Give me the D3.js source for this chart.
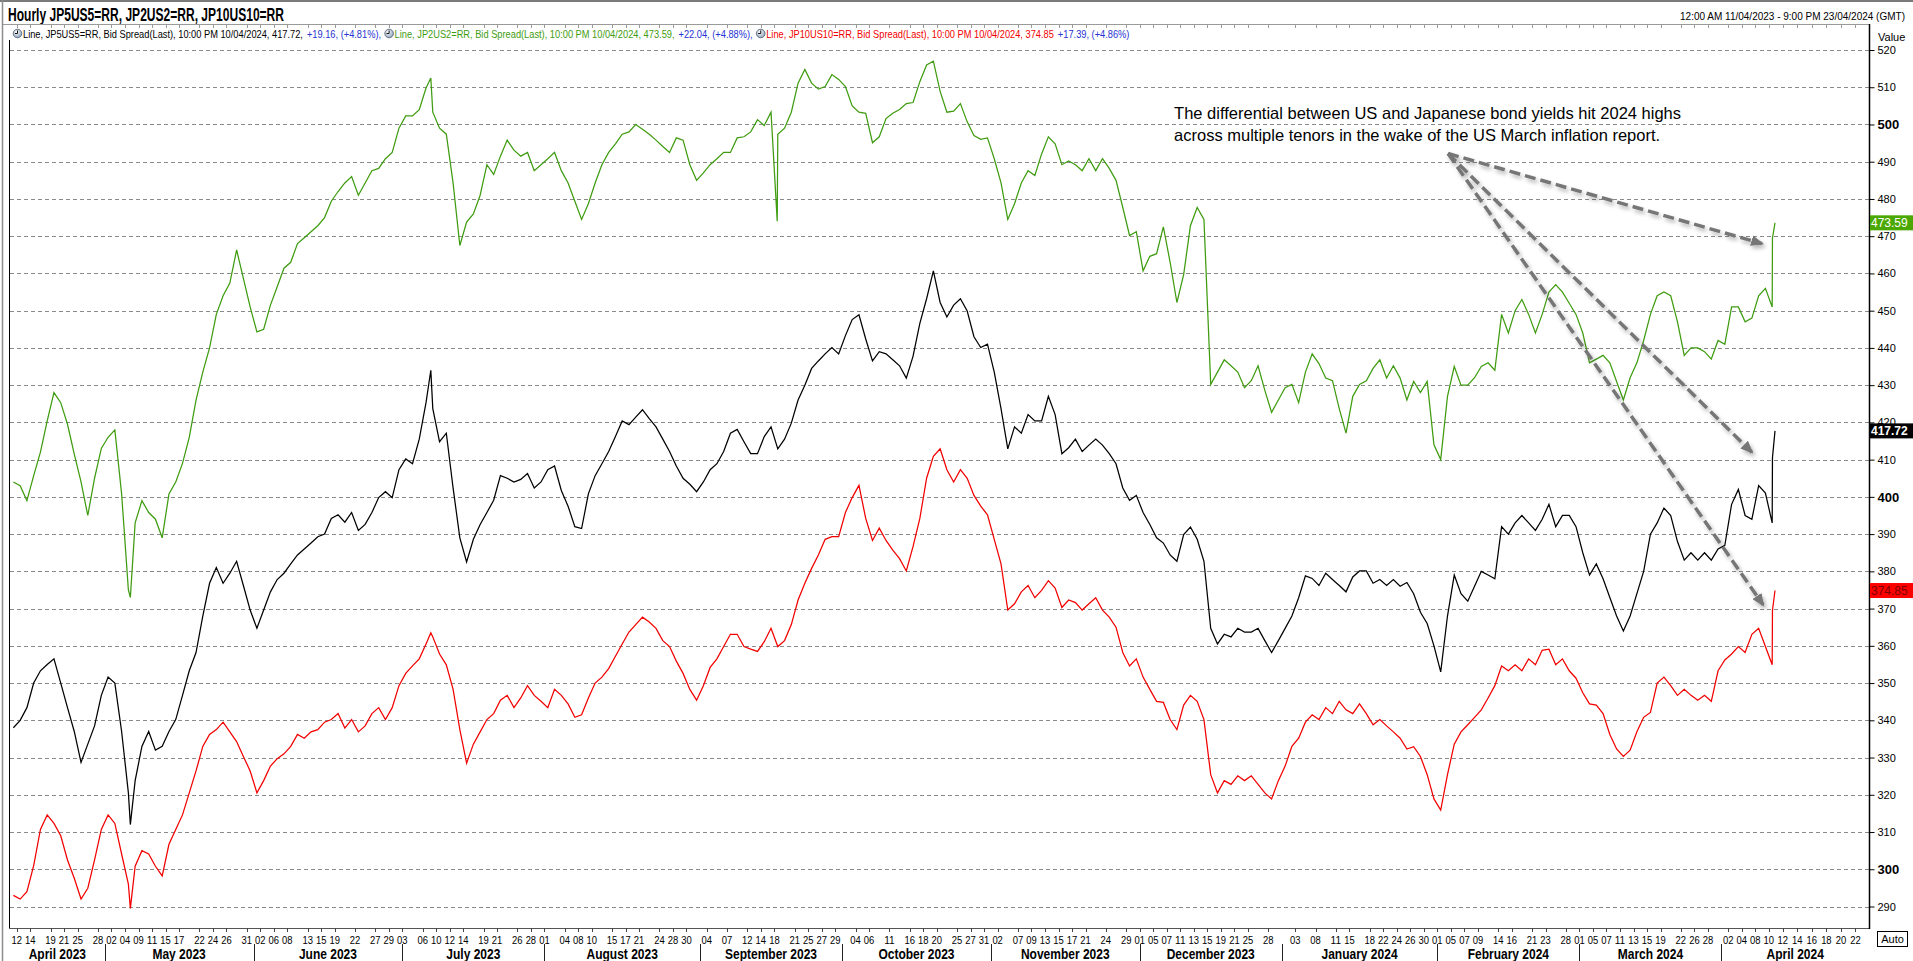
<!DOCTYPE html>
<html>
<head>
<meta charset="utf-8">
<title>Hourly JP5US5=RR, JP2US2=RR, JP10US10=RR</title>
<script src="https://cdn.jsdelivr.net/npm/d3@7/dist/d3.min.js"></script>
<style>
  html, body { margin:0; padding:0; background:#ffffff; overflow:hidden; }
  svg { display:block; }
  text { font-family: "Liberation Sans", Arial, sans-serif; }
</style>
</head>
<body>
<svg id="chart" width="1913" height="961"></svg>
<script>
// ================= DATA =================
const chartTitle = "Hourly JP5US5=RR, JP2US2=RR, JP10US10=RR";
const rangeLabel = "12:00 AM 11/04/2023 - 9:00 PM 23/04/2024 (GMT)";
const seriesCodes = ["JP5US5=RR", "JP2US2=RR", "JP10US10=RR"];
const lastTimeLabel = "10:00 PM 10/04/2024";
const closeValues = [417.72, 473.59, 374.85];
const netChanges = [19.16, 22.04, 17.39];
const pctChanges = [4.81, 4.88, 4.86];

const firstDay = "2023-04-11";
const lastBar = "2024-04-10 22:00";
const axisEnd = "2024-04-23 21:00";
const closedDays = ["2023-05-08"];

// one reading per trading day (midday)
const jp5us5 = [
  338, 340, 343.4, 350, 353.3, 355, 356.5, 350, 343.4, 337,
  328.7, 333.6, 338.5, 346.7, 351.6, 350, 337, 320.5, 323.8, 333,
  337, 332, 333, 337, 340.2, 346.7, 353.3, 358.2, 368, 376.8,
  381, 376.8, 379.5, 382.7, 376.2, 369.6, 364.7, 369.6, 374.5, 377.8,
  379.5, 382, 384.4, 386, 387.6, 389.3, 390, 394.2, 395.2, 393.2,
  395.8, 391, 392.6, 395.8, 399.8, 401.4, 399.8, 407.3, 410.2, 408.9,
  415.5, 425.3, 423.7, 414.8, 417.1, 402.4, 389, 382.5, 388.6, 392.6,
  395.8, 399.1, 405.7, 405, 404, 404.7, 406.3, 402.4, 404, 407.3,
  408.3, 401.7, 397.5, 392, 391.5, 400.8, 405.7, 408.9, 412.2, 416.2,
  420.4, 419.4, 421.4, 423.4, 421, 418.8, 415.5, 412.2, 408.3, 405,
  403.4, 401.4, 404, 407.3, 408.9, 412.2, 417.1, 418.1, 414.8, 411.6,
  411.6, 416.2, 418.8, 412.9, 415.5, 419.8, 426, 430, 434.5, 436.5,
  438.4, 440.1, 438.4, 443.3, 447.6, 448.9, 442.4, 436.5, 439, 438.4,
  436.8, 435.2, 431.9, 437.8, 446.6, 453.2, 460.7, 452.2, 448.3, 451.5, 453.2,
  449.9, 443, 440.1, 441, 433.5, 423.7, 412.9, 418.8, 417.1, 422.1,
  420.4, 420.4, 427, 422.1, 411.6, 413.2, 415.5, 412.2, 413.9, 415.5,
  413.9, 411.6, 408.9, 402.4, 399.1, 400.4, 395.8, 392.6, 389, 387.6,
  384.4, 382.7, 389.9, 391.9, 388.6, 382.7, 364.7, 360.5, 363.1, 362.4,
  364.7, 363.7, 363.7, 364.7, 361.4, 358.2, 361.4, 364.7, 368, 372.9,
  378.8, 378.1, 376.2, 379.5, 377.8, 376.2, 374.5, 378.5, 380.1, 380.1,
  376.8, 377.8, 376.2, 377.8, 376, 377, 374, 369, 366, 360,
  353, 368, 379, 374, 372, 376, 380, 379, 378, 392,
  390, 393, 395, 393, 391, 394, 398, 392, 395, 395,
  392, 385, 379, 382, 378, 373, 368, 364, 368, 374,
  380, 390, 393, 397, 395, 388, 383, 385, 383, 385,
  383, 386, 387, 398, 402, 395, 394, 403, 401, 393
];
const jp2us2 = [
  404, 403, 399, 405.7, 412, 420.4, 428, 425.3, 419.5, 411.5,
  404, 395, 405, 413, 416, 418, 400.8, 375, 393, 399,
  395.8, 394, 389, 400.8, 404, 409, 416, 426, 433.5, 440,
  449, 454, 457.4, 466.3, 458.7, 451, 444.3, 445, 451.5, 456.4,
  461.4, 463, 468, 469.6, 471.2, 472.8, 475, 479.4, 482, 484.3,
  486, 481, 484.3, 487.6, 488.2, 490.8, 492.5, 499, 502.3, 502.3,
  504, 509.8, 503.3, 499, 497.4, 484.3, 467.5, 473.8, 476, 481,
  489.2, 486.6, 491.5, 495.8, 493.1, 491.5, 492.5, 487.6, 489.2, 490.8,
  492.5, 487.6, 484.3, 479.4, 474.5, 478.7, 484.3, 489.2, 492.5, 494.8,
  497.4, 498, 500, 498.7, 497.4, 495.8, 494.1, 492.5, 496.4, 495.8,
  489.2, 485, 487, 489.2, 490.8, 492.5, 492.5, 496.4, 496.7, 498,
  501.3, 499.7, 503.3, 497.4, 499, 503.3, 511.1, 514.8, 511.1, 509.5,
  510.2, 513.4, 512.1, 510.2, 505, 503.3, 503, 495.1, 496.7, 501.6,
  503, 504, 505.6, 505.9, 511.5, 516, 517, 508.9, 503.3, 503.6, 505.6,
  500.7, 497, 496, 496.4, 490.8, 484.3, 474.5, 478.7, 484.3, 487.6,
  486.3, 492.1, 496.7, 494.8, 489.2, 490.2, 489.2, 487.6, 490.8, 487.6,
  490.8, 488.2, 485, 477.7, 470.2, 471.2, 460.7, 464.6, 465.3, 472.5,
  463, 452.2, 459.7, 472.8, 477.7, 474.5, 430.2, 433.5, 436.8, 435.2,
  433.5, 429.3, 431.2, 435.2, 428.6, 422.7, 426, 429.3, 430.2, 425.3,
  433.5, 438.4, 435.8, 431.9, 431.2, 423.7, 417.1, 427, 430.2, 431.2,
  434.5, 436.8, 431.9, 435.2, 431.9, 426, 431, 428, 431, 414,
  410, 427, 435, 430, 430, 432, 435, 436, 434, 449,
  444, 450, 453, 449, 444, 449, 455, 457, 455, 452,
  449, 444, 436, 437, 438, 436, 431, 426, 432, 436,
  442, 449, 454, 455, 454, 447, 438, 440, 440, 439,
  437, 442, 441, 451, 451, 447, 448, 454, 456, 451
];
const jp10us10 = [
  293, 292, 294, 301, 310.7, 314.6, 312.3, 309, 302.5, 297.6,
  292, 294.9, 302.5, 310.7, 314.6, 312.3, 304.1, 296, 300.8, 305,
  304.1, 300.8, 298.2, 306.7, 310.7, 314.6, 320.5, 326.4, 333, 336.2,
  337.5, 339.5, 336.9, 334.3, 330.3, 326.4, 320.5, 323.8, 327.7, 329.7,
  331, 333, 336.2, 335.2, 336.9, 337.5, 339.5, 340.2, 341.8, 337.9,
  340.2, 336.9, 338.5, 341.8, 343.4, 340.2, 343.4, 349.3, 352.6, 354.6,
  356.5, 360.5, 362.4, 357.8, 354.9, 348.3, 337.5, 328.5, 333.6, 336.9,
  340.2, 341.8, 345.4, 346.7, 343.4, 346, 349.3, 346.7, 345.1, 343.4,
  348.3, 346.7, 344.4, 340.8, 341.5, 346, 350, 351.6, 353.9, 357.2,
  360.5, 363.7, 365.7, 367.7, 366.4, 364.7, 361.4, 359.8, 355.9, 352.6,
  348.3, 345.4, 349.3, 354.2, 356.5, 359.8, 363.1, 363.1, 359.8, 359.1,
  358.5, 361.1, 364.7, 359.8, 361.4, 365.7, 372.3, 376.8, 380.8, 384.4,
  388.6, 389.3, 389.3, 395.8, 399.8, 403.1, 394.2, 388.3, 391.6, 388.3,
  385.7, 383.4, 380.1, 386.7, 394.2, 405, 410.9, 412.9, 407.3, 404, 407.3,
  405, 400.4, 397.5, 395.2, 388.6, 382, 369.6, 371.3, 374.5, 376.2,
  372.9, 374.9, 377.5, 375.5, 370.3, 372.3, 371.6, 369.6, 371.3, 372.9,
  369.6, 367.7, 365, 358.2, 354.6, 356.5, 351.6, 348.3, 345.1, 344.8,
  340.2, 337.5, 344.1, 346.7, 345.1, 340.2, 325.4, 320.5, 323.8, 322.8,
  325.1, 323.8, 325.1, 322.8, 320.5, 318.9, 323.8, 327.7, 333, 335.2,
  339.5, 341.5, 340.2, 343.4, 341.8, 345.1, 342.8, 341.8, 344.4, 341.8,
  338.8, 340.2, 338.5, 336.9, 335.2, 332.3, 332.9, 330.3, 325.4, 318.9,
  315.9, 325.4, 333.6, 336.9, 338.8, 340.8, 342.8, 346, 349.3, 354.6,
  353.3, 354.9, 353.3, 356.5, 354.9, 358.8, 359.1, 354.9, 356.5, 353.3,
  351.3, 347.4, 344.4, 344.1, 341.8, 336.2, 332.3, 330.3, 332, 336.9,
  340.8, 342.1, 350, 351.6, 349.3, 346.7, 348.3, 346.7, 345.4, 346.7,
  345.1, 353.3, 356.2, 357.8, 359.8, 358.2, 363.1, 364.7, 359.8, 354.9
];
// intraday extremes
const jp5us5Intraday = [["2023-05-04 19:00", 312], ["2023-07-07 05:00", 434], ["2024-04-10 13:00", 410.5]];
const jp2us2Intraday = [["2023-05-04 19:00", 373], ["2023-07-07 05:00", 512.5], ["2023-09-18 10:00", 474], ["2024-04-10 13:00", 469.5]];
const jp10us10Intraday = [["2023-05-04 19:00", 289.5], ["2023-07-07 05:00", 363.5], ["2024-04-10 13:00", 369.5]];

const yTickValues = [290, 300, 310, 320, 330, 340, 350, 360, 370, 380, 390, 400, 410,
                     420, 430, 440, 450, 460, 470, 480, 490, 500, 510, 520];
const yMajorTicks = [300, 400, 500];

const dayTicks = [
  "2023-04-12","2023-04-14","2023-04-19","2023-04-21","2023-04-25","2023-04-28",
  "2023-05-02","2023-05-04","2023-05-09","2023-05-11","2023-05-15","2023-05-17","2023-05-22","2023-05-24","2023-05-26","2023-05-31",
  "2023-06-02","2023-06-06","2023-06-08","2023-06-13","2023-06-15","2023-06-19","2023-06-22","2023-06-27","2023-06-29",
  "2023-07-03","2023-07-06","2023-07-10","2023-07-12","2023-07-14","2023-07-19","2023-07-21","2023-07-26","2023-07-28",
  "2023-08-01","2023-08-04","2023-08-08","2023-08-10","2023-08-15","2023-08-17","2023-08-21","2023-08-24","2023-08-28","2023-08-30",
  "2023-09-04","2023-09-07","2023-09-12","2023-09-14","2023-09-18","2023-09-21","2023-09-25","2023-09-27","2023-09-29",
  "2023-10-04","2023-10-06","2023-10-11","2023-10-16","2023-10-18","2023-10-20","2023-10-25","2023-10-27","2023-10-31",
  "2023-11-02","2023-11-07","2023-11-09","2023-11-13","2023-11-15","2023-11-17","2023-11-21","2023-11-24","2023-11-29",
  "2023-12-01","2023-12-05","2023-12-07","2023-12-11","2023-12-13","2023-12-15","2023-12-19","2023-12-21","2023-12-25","2023-12-28",
  "2024-01-03","2024-01-08","2024-01-11","2024-01-15","2024-01-18","2024-01-22","2024-01-24","2024-01-26","2024-01-30",
  "2024-02-01","2024-02-05","2024-02-07","2024-02-09","2024-02-14","2024-02-16","2024-02-21","2024-02-23","2024-02-28",
  "2024-03-01","2024-03-05","2024-03-07","2024-03-11","2024-03-13","2024-03-15","2024-03-19","2024-03-22","2024-03-26","2024-03-28",
  "2024-04-02","2024-04-04","2024-04-08","2024-04-10","2024-04-12","2024-04-14","2024-04-16","2024-04-18","2024-04-20","2024-04-22"
];
const monthKeys = ["2023-04","2023-05","2023-06","2023-07","2023-08","2023-09","2023-10",
                   "2023-11","2023-12","2024-01","2024-02","2024-03","2024-04"];
const monthLabels = ["April 2023","May 2023","June 2023","July 2023","August 2023","September 2023",
                     "October 2023","November 2023","December 2023","January 2024","February 2024",
                     "March 2024","April 2024"];

const annotationLines = [
  "The differential between US and Japanese bond yields hit 2024 highs",
  "across multiple tenors in the wake of the US March inflation report."
];
const annotationAt = ["2023-12-08 02:00", 501.6];
const arrowFrom = ["2024-02-02 14:00", 492.2];
const arrowTargets = [["2024-04-09 00:00", 468.0], ["2024-04-05 12:00", 412.0], ["2024-04-09 04:00", 371.0]];

// ================= STYLE / LAYOUT =================
const COL = { black: "#000000", green: "#3f9c10", red: "#f20000", blue: "#2632d4",
              greenBox: "#4aa800", redBox: "#ff0000", grid: "#8a8a8a", arrow: "#767676" };
const L = { left: 10, right: 1869, top: 25, bottom: 928, dataEnd: 1775 };

// ================= SCALES =================
const parseT = d3.utcParse("%Y-%m-%d %H:%M");
const parseD = d3.utcParse("%Y-%m-%d");
const fmtD = d3.utcFormat("%Y-%m-%d");
const closedSet = new Set(closedDays);
const lastT = parseT(lastBar), endT = parseT(axisEnd);
const tradingDays = [];
for (let d = parseD(firstDay); d <= lastT; d = d3.utcDay.offset(d, 1)) {
  const wd = d.getUTCDay();
  if (wd === 0 || wd === 6 || closedSet.has(fmtD(d))) continue;
  tradingDays.push(fmtD(d));
}
const dayPos = new Map(tradingDays.map((d, i) => [d, i]));
function tIndex(t) {
  if (t > lastT) return tIndex(lastT) + (t - lastT) / 864e5;
  const key = fmtD(t);
  if (dayPos.has(key)) return dayPos.get(key) + (t - d3.utcDay.floor(t)) / 864e5;
  return d3.bisectLeft(tradingDays, key);
}
const lastIdx = tIndex(lastT), endIdx = tIndex(endT);
const x = d3.scaleLinear().domain([0, lastIdx, endIdx]).range([L.left, L.dataEnd, L.right]);
const xt = s => x(tIndex(parseT(s.length === 10 ? s + " 00:00" : s)));
const y = d3.scaleLinear().domain([290, 520]).range([906.5, 50]);

// ================= DRAW =================
const svg = d3.select("#chart");
const defs = svg.append("defs");
defs.append("clipPath").attr("id", "plotClip").append("rect")
  .attr("x", L.left).attr("y", L.top).attr("width", L.right - L.left).attr("height", L.bottom - L.top);
const grad = defs.append("radialGradient").attr("id", "iconGrad").attr("cx", "40%").attr("cy", "35%").attr("r", "65%");
grad.append("stop").attr("offset", "0%").attr("stop-color", "#ffffff");
grad.append("stop").attr("offset", "100%").attr("stop-color", "#8ea3bd");
const shadow = defs.append("filter").attr("id", "shadow").attr("x", "-10%").attr("y", "-10%").attr("width", "130%").attr("height", "130%");
shadow.append("feGaussianBlur").attr("in", "SourceAlpha").attr("stdDeviation", 2.2).attr("result", "b");
shadow.append("feOffset").attr("in", "b").attr("dx", 2).attr("dy", 3).attr("result", "o");
shadow.append("feComponentTransfer").attr("in", "o").attr("result", "s")
  .append("feFuncA").attr("type", "linear").attr("slope", 0.3);
const fm = shadow.append("feMerge");
fm.append("feMergeNode").attr("in", "s");
fm.append("feMergeNode").attr("in", "SourceGraphic");
defs.append("marker").attr("id", "ahead").attr("viewBox", "0 0 12 10")
  .attr("refX", 10).attr("refY", 5).attr("markerWidth", 13).attr("markerHeight", 11)
  .attr("markerUnits", "userSpaceOnUse").attr("orient", "auto")
  .append("path").attr("d", "M0,0 L12,5 L0,10 Z").attr("fill", COL.arrow);

// window frame
svg.append("rect").attr("x", 0).attr("y", 0).attr("width", 1913).attr("height", 2).attr("fill", "#7a7a7a");
svg.append("line").attr("x1", 2.5).attr("x2", 2.5).attr("y1", 0).attr("y2", 961).attr("stroke", "#8c8c8c").attr("stroke-width", 1.5);

// title + range
svg.append("text").attr("x", 8).attr("y", 21).attr("font-size", 18).attr("font-weight", "bold")
  .attr("textLength", 276).attr("lengthAdjust", "spacingAndGlyphs").text(chartTitle);
svg.append("text").attr("x", 1905).attr("y", 20).attr("font-size", 10).attr("text-anchor", "end").text(rangeLabel);

// panel top line with small ticks
svg.append("line").attr("x1", 3).attr("x2", L.right).attr("y1", 24.5).attr("y2", 24.5)
  .attr("stroke", "#9a9a9a").attr("stroke-width", 1);
svg.append("g").selectAll("line").data(dayTicks).join("line")
  .attr("x1", d => Math.round(xt(d)) + 0.5).attr("x2", d => Math.round(xt(d)) + 0.5)
  .attr("y1", 25).attr("y2", 28).attr("stroke", "#9a9a9a");

// gridlines
svg.append("g").selectAll("line").data(yTickValues).join("line")
  .attr("x1", L.left).attr("x2", L.right)
  .attr("y1", d => Math.round(y(d)) + 0.5).attr("y2", d => Math.round(y(d)) + 0.5)
  .attr("stroke", COL.grid).attr("stroke-width", 1).attr("stroke-dasharray", "4,3");

// series
function buildSeries(daily, intraday, close) {
  const n = Math.min(daily.length, tradingDays.length);
  const pts = [];
  for (let i = 0; i < n; i++) pts.push({ t: parseT(tradingDays[i] + " 12:00"), v: daily[i] });
  intraday.forEach(([s, v]) => pts.push({ t: parseT(s), v }));
  pts.push({ t: lastT, v: close });
  pts.sort((a, b) => a.t - b.t);
  return pts;
}
const line = d3.line().x(d => x(tIndex(d.t))).y(d => y(d.v));
const series = [
  { pts: buildSeries(jp2us2, jp2us2Intraday, closeValues[1]), color: COL.green },
  { pts: buildSeries(jp5us5, jp5us5Intraday, closeValues[0]), color: COL.black },
  { pts: buildSeries(jp10us10, jp10us10Intraday, closeValues[2]), color: COL.red }
];
const gLines = svg.append("g").attr("clip-path", "url(#plotClip)");
series.forEach(s => gLines.append("path").attr("d", line(s.pts)).attr("fill", "none")
  .attr("stroke", s.color).attr("stroke-width", 1.25).attr("stroke-linejoin", "miter"));

// plot frame
svg.append("line").attr("x1", 9.5).attr("x2", 9.5).attr("y1", 40).attr("y2", L.bottom)
  .attr("stroke", "#000").attr("stroke-width", 1);
svg.append("line").attr("x1", 9).attr("x2", L.right).attr("y1", L.bottom + 0.5).attr("y2", L.bottom + 0.5)
  .attr("stroke", "#555").attr("stroke-width", 1);
svg.append("line").attr("x1", L.right + 0.5).attr("x2", L.right + 0.5).attr("y1", 24).attr("y2", L.bottom + 1)
  .attr("stroke", "#000").attr("stroke-width", 1.5);

// right axis
const yAxis = d3.axisRight(y).tickValues(yTickValues).tickSize(5).tickPadding(3).tickFormat(d3.format("d"));
const gy = svg.append("g").attr("transform", `translate(${L.right + 0.5},0)`).call(yAxis);
gy.select(".domain").remove();
gy.selectAll(".tick line").attr("stroke", "#000");
gy.selectAll(".tick text").attr("fill", "#000")
  .attr("font-size", d => yMajorTicks.includes(d) ? 13 : 11)
  .attr("font-weight", d => yMajorTicks.includes(d) ? "bold" : "normal")
  .attr("font-family", "Liberation Sans, Arial, sans-serif");
svg.append("text").attr("x", 1878).attr("y", 41).attr("font-size", 11).text("Value");

// current-value flags
const flags = [
  { v: closeValues[1], fill: COL.greenBox, tc: "#ffffff", w: "normal" },
  { v: closeValues[0], fill: "#000000", tc: "#ffffff", w: "bold" },
  { v: closeValues[2], fill: COL.redBox, tc: "#7d0000", w: "normal" }
];
flags.forEach(f => {
  const cy = y(f.v);
  svg.append("rect").attr("x", L.right + 1).attr("y", cy - 7.5).attr("width", 1913 - L.right).attr("height", 15).attr("fill", f.fill);
  svg.append("text").attr("x", L.right + 2).attr("y", cy + 4.5).attr("font-size", 12).attr("font-weight", f.w)
    .attr("fill", f.tc).text(f.v.toFixed(2));
});

// Auto box
svg.append("rect").attr("x", 1877.5).attr("y", 931.5).attr("width", 30).attr("height", 15)
  .attr("fill", "#fff").attr("stroke", "#000");
svg.append("text").attr("x", 1892.5).attr("y", 943).attr("text-anchor", "middle").attr("font-size", 11).text("Auto");

// x axis: day ticks & labels
const gx = svg.append("g");
gx.selectAll("line").data(dayTicks).join("line")
  .attr("x1", d => Math.round(xt(d)) + 0.5).attr("x2", d => Math.round(xt(d)) + 0.5)
  .attr("y1", L.bottom).attr("y2", L.bottom + 4).attr("stroke", "#444");
gx.selectAll("text").data(dayTicks).join("text")
  .attr("x", d => xt(d)).attr("y", 944).attr("text-anchor", "middle").attr("font-size", 11.5)
  .attr("textLength", 10.5).attr("lengthAdjust", "spacingAndGlyphs")
  .text(d => d.slice(8, 10));

// months
const monthStarts = monthKeys.map((k, i) => i === 0 ? L.left : xt(k + "-01"));
const monthEnds = monthStarts.slice(1).concat([L.right]);
const gm = svg.append("g");
monthKeys.forEach((k, i) => {
  if (i > 0) gm.append("line").attr("x1", Math.round(monthStarts[i]) + 0.5).attr("x2", Math.round(monthStarts[i]) + 0.5)
    .attr("y1", 944).attr("y2", 961).attr("stroke", "#222");
  const t = gm.append("text").attr("x", (monthStarts[i] + monthEnds[i]) / 2).attr("y", 959)
    .attr("text-anchor", "middle").attr("font-size", 15).attr("font-weight", "bold").text(monthLabels[i]);
  const w = t.node().getComputedTextLength();
  t.attr("textLength", w * 0.8).attr("lengthAdjust", "spacingAndGlyphs");
});

// legend: natural 11px text laid out in a row, then condensed horizontally as a group
const legendSegs = [];
seriesCodes.forEach((code, i) => {
  const col = [COL.black, COL.green, COL.red][i];
  const last = i === seriesCodes.length - 1;
  legendSegs.push({ icon: true });
  legendSegs.push({ str: `Line, ${code}, Bid Spread(Last), ${lastTimeLabel}, ${closeValues[i].toFixed(2)}${last ? "" : ","}`, fill: col });
  legendSegs.push({ str: `+${netChanges[i].toFixed(2)}, (+${pctChanges[i].toFixed(2)}%)${last ? "" : ","}`, fill: COL.blue });
});
const legendStart = 13, legendEnd = 1133, iconW = 10, segGap = 4;
const gLegOuter = svg.append("g");
const gLeg = gLegOuter.append("g");
const textSegs = legendSegs.filter(s => !s.icon);
textSegs.forEach(s => {
  s.node = gLeg.append("text").attr("y", 38).attr("font-size", 11).attr("fill", s.fill).text(s.str);
  s.w = s.node.node().getComputedTextLength();
});
const iconTotal = legendSegs.filter(s => s.icon).length * iconW;
const naturalW = d3.sum(textSegs, s => s.w) + segGap * textSegs.length;
const sx = (legendEnd - legendStart - iconTotal) / naturalW;
let lx = 0;
legendSegs.forEach(s => {
  if (s.icon) {
    const cx = legendStart + lx + 4.5, cy = 33.5;
    gLegOuter.append("circle").attr("cx", cx).attr("cy", cy).attr("r", 4.3).attr("fill", "url(#iconGrad)").attr("stroke", "#4d5a6a").attr("stroke-width", 0.8);
    gLegOuter.append("path").attr("d", `M${cx},${cy - 3} L${cx},${cy} L${cx - 2.6},${cy}`).attr("fill", "none").attr("stroke", "#111").attr("stroke-width", 1);
    lx += iconW;
  } else {
    // position in condensed space: text x is in unscaled units
    s.node.attr("x", (lx) / sx);
    lx += (s.w + segGap) * sx;
  }
});
gLeg.attr("transform", `translate(${legendStart},0) scale(${sx},1)`);

// annotation text
const ax0 = xt(annotationAt[0]), ay0 = y(annotationAt[1]);
annotationLines.forEach((t, i) => {
  svg.append("text").attr("x", ax0).attr("y", ay0 + i * 22).attr("font-size", 16.5).attr("fill", "#000").text(t);
});

// arrows
const gArr = svg.append("g").attr("filter", "url(#shadow)");
const fx = xt(arrowFrom[0]), fy = y(arrowFrom[1]);
arrowTargets.forEach(([t, v]) => {
  gArr.append("line").attr("x1", fx).attr("y1", fy).attr("x2", xt(t)).attr("y2", y(v))
    .attr("stroke", COL.arrow).attr("stroke-width", 3.5).attr("stroke-dasharray", "11,5")
    .attr("marker-end", "url(#ahead)");
});
</script>
</body>
</html>
